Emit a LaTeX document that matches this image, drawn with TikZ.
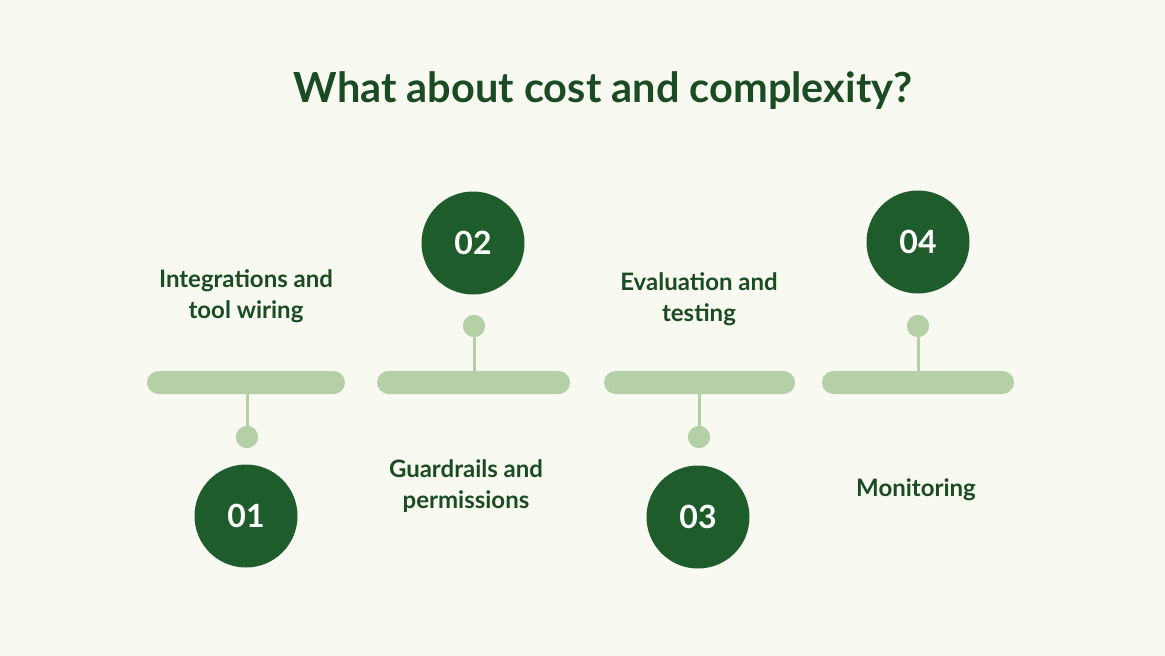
\documentclass[tikz,border=0pt]{standalone}
\usepackage{fontspec}
\setmainfont{Lato}
\definecolor{bg}{HTML}{F8FAF2}
\definecolor{dk}{HTML}{1F5C2B}
\definecolor{txt}{HTML}{1B4B23}
\definecolor{lt}{HTML}{B5D0A6}
\begin{document}
\begin{tikzpicture}[x=1pt,y=-1pt,
  bar/.style={fill=lt,rounded corners=11.5pt},
  stem/.style={draw=lt,line width=3pt},
  dot/.style={circle,fill=lt,minimum size=22pt,inner sep=0pt},
  numc/.style={circle,fill=dk,minimum size=103pt,inner sep=0pt,text=white,font=\fontsize{32}{34}\selectfont\bfseries},
  lbl/.style={text=txt,align=center,font=\fontsize{24}{31}\selectfont\bfseries}]
\fill[bg] (0,0) rectangle (1165,656);
\useasboundingbox (0,0) rectangle (1165,656);
\node[text=txt,font=\fontsize{41.5}{46}\selectfont\bfseries] (title) at (603,91) {What about cost and complexity?};
% bars
\fill[bar] (147,371) rectangle (345,394);
\fill[bar] (377,371) rectangle (570,394);
\fill[bar] (604,371) rectangle (795,394);
\fill[bar] (822,371) rectangle (1014,394);
\coordinate (b1) at (247,393);
\coordinate (b2) at (474,372);
\coordinate (b3) at (699,393);
\coordinate (b4) at (918,372);
% dots
\node[dot] (d1) at (247,437) {};
\node[dot] (d2) at (474,326) {};
\node[dot] (d3) at (699,437) {};
\node[dot] (d4) at (918,326) {};
\draw[stem] (b1) -- (d1.center);
\draw[stem] (b2) -- (d2.center);
\draw[stem] (b3) -- (d3.center);
\draw[stem] (b4) -- (d4.center);
\node[dot] at (d1) {};
\node[dot] at (d2) {};
\node[dot] at (d3) {};
\node[dot] at (d4) {};
% circles
\node[numc] (c1) at (246,516) {01};
\node[numc] (c2) at (473,243) {02};
\node[numc] (c3) at (698,517) {03};
\node[numc] (c4) at (918,242) {04};
% labels
\node[lbl] (l1) at (246,296) {Integrations and\\tool wiring};
\node[lbl] (l2) at (466,486) {Guardrails and\\permissions};
\node[lbl] (l3) at (699,299) {Evaluation and\\testing};
\node[lbl] (l4) at (916,490) {Monitoring};
\end{tikzpicture}
\end{document}
